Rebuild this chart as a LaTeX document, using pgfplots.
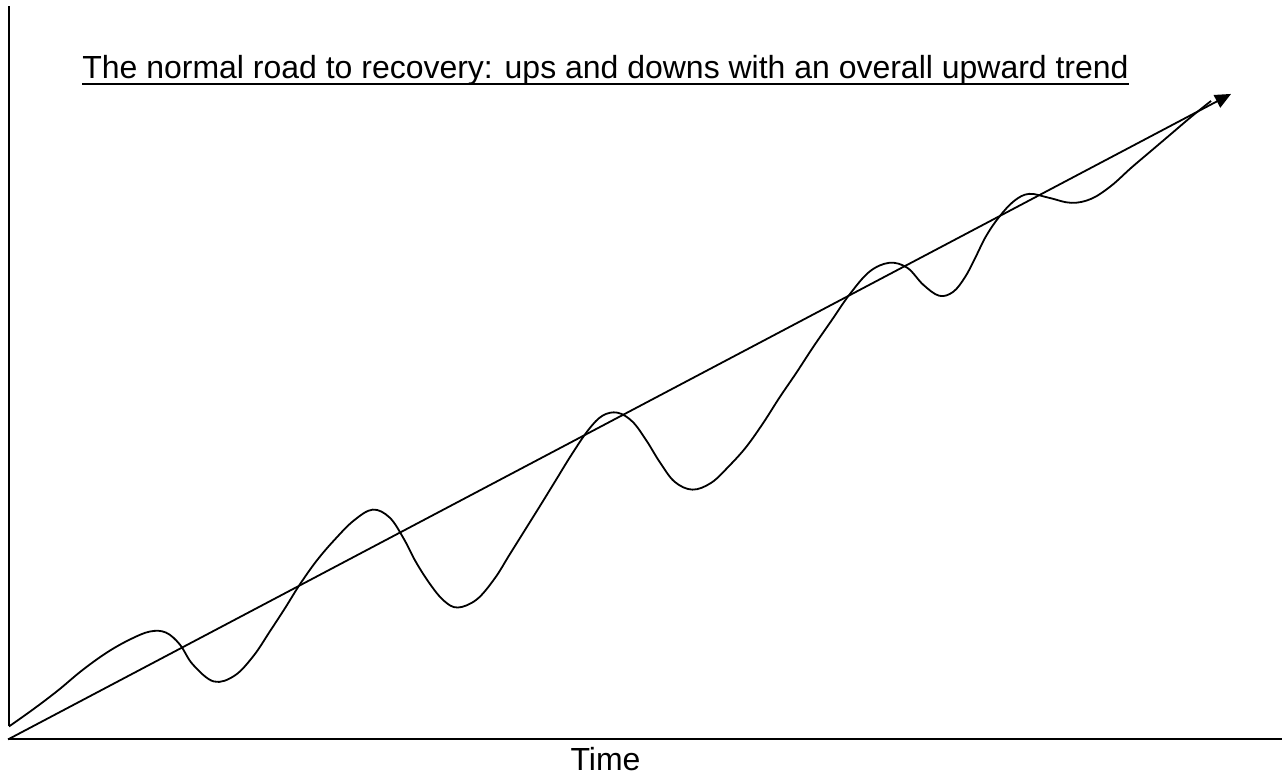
\documentclass[border=0pt]{standalone}
\usepackage{pgfplots}
\pgfplotsset{compat=1.18}
\usepackage{fontspec}
\setmainfont{Liberation Sans}
\usetikzlibrary{arrows.meta}
\newcommand\ul[1]{\setbox0\hbox{#1}\rlap{\vrule width\wd0 height -2pt depth 3pt}\box0}
\begin{document}
\begin{tikzpicture}
\begin{axis}[
  scale only axis, width=641.5pt, height=389pt,
  xmin=0, xmax=1283, ymin=0, ymax=778, y dir=reverse,
  hide axis, clip=false,
]
\path (axis cs:0,0) rectangle (axis cs:1283,778);
% axes
\addplot[black, line width=1pt] coordinates {(9,6) (9,727)};
\addplot[black, line width=1pt] coordinates {(8,740) (1283,740)};
% trend
\addplot[black, line width=0.9pt, -{Triangle[length=8pt,width=7pt]}] coordinates {(8,740) (1232,94)};
% recovery path
\addplot[black, line width=0.9pt, smooth, tension=0.6] coordinates {
(9,727) (33,710) (58,691) (82,671) (107,653) (130,640) (150,632) (166,633) (180,645) (193,665) (214,682) (235,676) (254,656) (270,632) (285,609) (300,585) (317,561) (335,540) (354,521) (373,510) (390,518) (404,539) (416,562) (430,584) (444,601) (458,608) (477,600) (495,579) (510,555) (525,531) (540,507) (556,481) (572,455) (589,430) (603,416) (618,413) (633,422) (647,441) (660,462) (675,482) (693,490) (712,483) (730,466) (747,447) (764,423) (780,398) (797,373) (814,347) (832,321) (850,295) (870,272) (890,263) (908,268) (924,285) (940,296) (954,292) (966,277) (976,258) (987,236) (1000,217) (1015,201) (1030,194) (1050,198) (1072,203) (1092,199) (1112,186) (1132,168) (1152,151) (1172,134) (1192,117) (1212,101)};
\node[anchor=base, inner sep=0pt, font=\fontsize{16}{19}\selectfont] at (axis cs:606,79) {\ul{The normal road to recovery: ups and downs with an overall upward trend}};
\node[anchor=base, inner sep=0pt, font=\fontsize{16}{19}\selectfont] at (axis cs:606,771) {Time};
\end{axis}
\end{tikzpicture}
\end{document}
